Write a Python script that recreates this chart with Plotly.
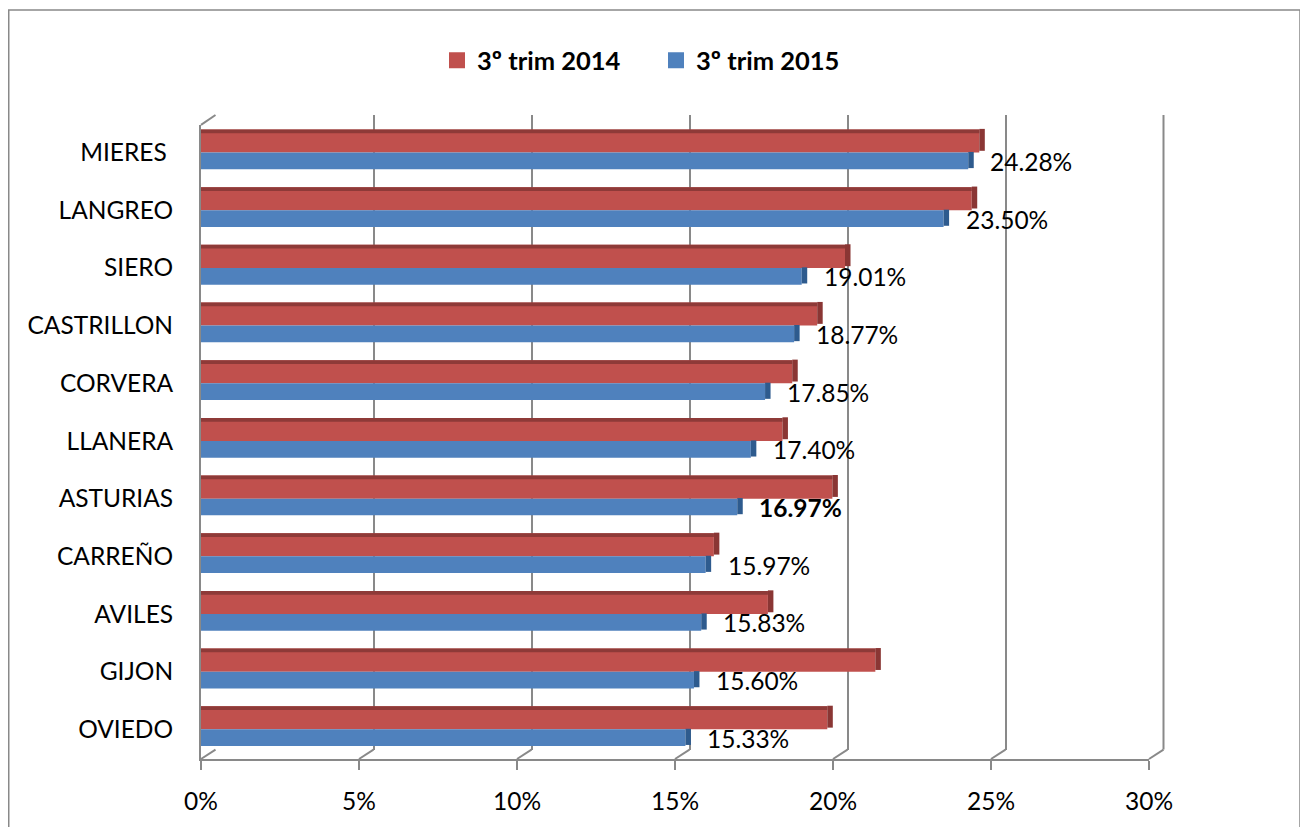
import plotly.graph_objects as go

# ---------------- data ----------------
categories = ["MIERES\u00a0", "LANGREO", "SIERO", "CASTRILLON", "CORVERA", "LLANERA",
              "ASTURIAS", "CARREÑO", "AVILES", "GIJON", "OVIEDO"]
trim_2014 = [24.63, 24.39, 20.38, 19.50, 18.71, 18.40, 19.98, 16.23, 17.94, 21.34, 19.82]
trim_2015 = [24.28, 23.50, 19.01, 18.77, 17.85, 17.40, 16.97, 15.97, 15.83, 15.60, 15.33]
series_names = ["3º trim 2014", "3º trim 2015"]
tick_vals = [0, 5, 10, 15, 20, 25, 30]
tick_text = ["0%", "5%", "10%", "15%", "20%", "25%", "30%"]
bold_category = "ASTURIAS"

# ---------------- style / geometry (screen px) ----------------
OFF = 8                                    # page body margin
W, H = 1308 - OFF, 827 - OFF
L, R, T, B = 201 - OFF, 1164 - OFF, 115 - OFF, 767 - OFF
PW, PH = R - L, B - T
FRONT_RIGHT = 1149 - OFF
DX, DY = 14.5, 9.5                         # 3D depth offset (px)
WALL_TOP = 125 - OFF
FONT = "Lato"
FS = 24.5
GRID = "#898989"
RED, RED_TOP, RED_SIDE = "#C0504D", "#8E3A38", "#8A3634"
BLUE, BLUE_SIDE = "#4F81BD", "#2E5B8E"

px_per_unit = (FRONT_RIGHT - L) / 30.0
cap = 5.5 / px_per_unit
n = len(categories)
y_top_range = -(153 - OFF - WALL_TOP) / 58.4
y_bot_range = (n - 1) + (B - (737 - OFF)) / 58.4


def fx(px):
    return (px - L) / PW


def fy(py):
    return (B - py) / PH


fig = go.Figure()

# legend entries (also create the back-plane subplot)
fig.add_trace(go.Scatter(x=[None], y=[None], mode="markers", name=series_names[0],
                         marker=dict(symbol="square", size=16, color=RED),
                         xaxis="x", yaxis="y"))
fig.add_trace(go.Scatter(x=[None], y=[None], mode="markers", name=series_names[1],
                         marker=dict(symbol="square", size=16, color=BLUE),
                         xaxis="x", yaxis="y"))

common = dict(orientation="h", xaxis="x2", yaxis="y2", showlegend=False, hoverinfo="skip")
# 2014 bars (upper)
fig.add_trace(go.Bar(x=trim_2014, y=categories, marker=dict(color=RED, line=dict(width=0)),
                     offset=-0.40, width=0.40, **common))
fig.add_trace(go.Bar(x=trim_2014, y=categories, marker=dict(color=RED_TOP, line=dict(width=0)),
                     offset=-0.40, width=0.065, **common))
fig.add_trace(go.Bar(x=[cap] * n, base=trim_2014, y=categories,
                     marker=dict(color=RED_SIDE, line=dict(width=0)),
                     offset=-0.41, width=0.38, **common))
# 2015 bars (lower)
fig.add_trace(go.Bar(x=trim_2015, y=categories, marker=dict(color=BLUE, line=dict(width=0)),
                     offset=0.0, width=0.29, **common))
fig.add_trace(go.Bar(x=[cap] * n, base=trim_2015, y=categories,
                     marker=dict(color=BLUE_SIDE, line=dict(width=0)),
                     offset=-0.01, width=0.28, **common))

# value labels for 2015
annotations = []
for c, v in zip(categories, trim_2015):
    annotations.append(dict(
        x=v, y=c, xref="x2", yref="y2", text=f"{v:.2f}%", showarrow=False,
        xanchor="left", yanchor="middle", xshift=20, yshift=-9,
        font=dict(family=FONT, size=FS, color="black",
                  weight="bold" if c == bold_category else "normal")))

# 3D frame lines (floor connectors, wall top, back right edge) in paper coords
shapes = []
for t in tick_vals:
    xf = L + t * px_per_unit
    shapes.append(dict(type="line", xref="paper", yref="paper",
                       x0=fx(xf), x1=fx(xf + DX), y0=0, y1=DY / PH,
                       line=dict(color=GRID, width=2)))
shapes.append(dict(type="line", xref="paper", yref="paper", x0=fx(L), x1=fx(L + DX),
                   y0=fy(WALL_TOP), y1=1, line=dict(color=GRID, width=2)))
x30 = L + 30 * px_per_unit + DX
shapes.append(dict(type="line", xref="paper", yref="paper", x0=fx(x30), x1=fx(x30),
                   y0=DY / PH, y1=1, line=dict(color=GRID, width=2)))
# outer chart border (as close to the page edge as the figure allows)
shapes.append(dict(type="rect", xref="paper", yref="paper",
                   x0=fx(0.75), x1=fx(1300 - OFF), y0=fy(845 - OFF), y1=fy(0.75),
                   line=dict(color=GRID, width=1.5)))

fig.update_layout(
    width=W, height=H,
    margin=dict(l=L, r=W - R, t=T, b=H - B, pad=0),
    paper_bgcolor="white", plot_bgcolor="rgba(0,0,0,0)",
    barmode="overlay",
    font=dict(family=FONT, size=FS, color="black"),
    # back plane
    xaxis=dict(domain=[DX / PW, 1], range=[0, 30], anchor="y", tickvals=tick_vals,
               showticklabels=False, ticks="", showgrid=True, gridcolor=GRID, gridwidth=2,
               zeroline=False, showline=False, fixedrange=True),
    yaxis=dict(domain=[DY / PH, 1], range=[0, 1], anchor="x", visible=False,
               showgrid=False, zeroline=False),
    # front plane
    xaxis2=dict(domain=[0, (FRONT_RIGHT - L) / PW], range=[0, 30], anchor="y2",
                tickvals=tick_vals, ticktext=tick_text, ticks="outside", ticklen=9,
                tickwidth=2, tickcolor=GRID, showgrid=False, zeroline=False,
                showline=True, linecolor=GRID, linewidth=2, ticklabelstandoff=11,
                tickfont=dict(family=FONT, size=FS, color="black")),
    yaxis2=dict(domain=[0, (B - WALL_TOP) / PH], anchor="x2", type="category",
                categoryorder="array", categoryarray=categories,
                range=[y_bot_range, y_top_range], showgrid=False, zeroline=False,
                showline=True, linecolor=GRID, linewidth=2, ticks="outside",
                ticklen=0, tickcolor="rgba(0,0,0,0)", ticklabelstandoff=21,
                tickfont=dict(family=FONT, size=FS, color="black")),
    legend=dict(orientation="h", x=fx(437 - OFF), xanchor="left",
                y=fy(60 - OFF), yanchor="middle", bgcolor="rgba(0,0,0,0)",
                entrywidth=174, entrywidthmode="pixels",
                font=dict(family=FONT, size=25.5, color="black", weight="bold"),
                itemclick=False, itemdoubleclick=False),
    annotations=annotations,
    shapes=shapes,
)

fig.write_html("out.html")
